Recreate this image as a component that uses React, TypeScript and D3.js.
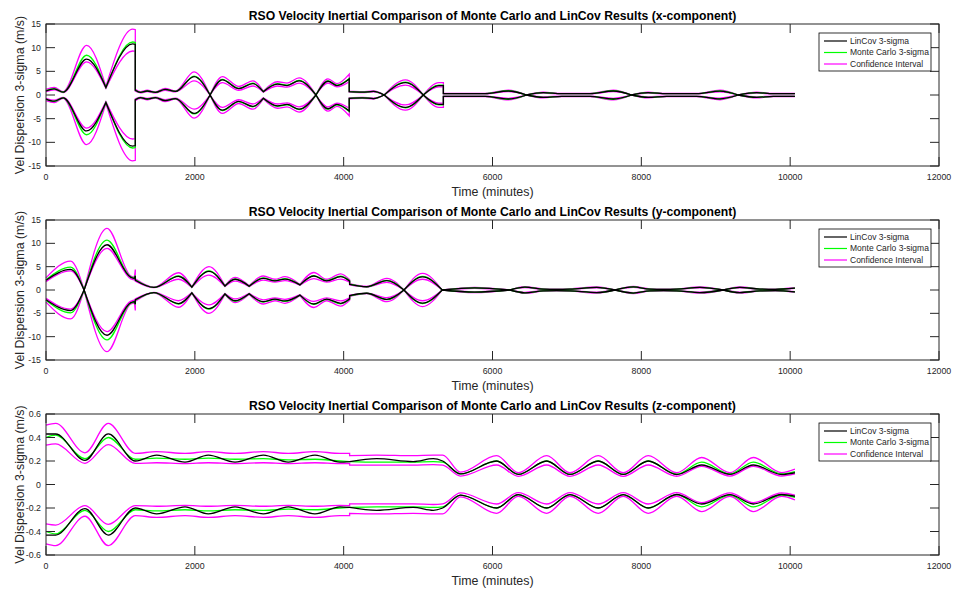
import React from "react";
import * as d3 from "d3";

// ---------- data (upper envelope values; lower envelope is the mirrored -value) ----------
// A repeated time marks a break (jump or cusp) in the curves.
const xTime = [0, 110, 230, 545, 805, 805, 1165, 1200,
  1200, 1270, 1360, 1470, 1600, 1740, 1990, 2205, 2205, 2370, 2590, 2780, 2920, 2920, 3110, 3240, 3400, 3628, 3628, 3790, 3910, 4075,
  4075, 4250, 4400, 4545, 4545, 4830, 5070, 5070, 5280, 5340,
  5340, 5900, 6212, 6459, 6459, 6682, 6930, 7310, 7623, 7870, 7870, 8090, 8340, 8743, 9057, 9302, 9302, 9550, 9773, 10064];
const xLinCov = [0.85, 1.3, 0.6, 7.6, 1.6, 1.6, 10.8, 10.7,
  1.0, 0.55, 0.85, 0.55, 1.2, 0.75, 3.9, 0, 0, 3.2, 1.35, 2.4, 0.7, 0.7, 2.3, 2.0, 3.0, 0, 0, 2.9, 2.0, 3.4,
  0.7, 0.6, 0.75, 0, 0, 2.6, 0, 0, 2.0, 2.0,
  0.28, 0.28, 0.85, 0, 0, 0.5, 0.28, 0.28, 0.85, 0, 0, 0.5, 0.28, 0.28, 0.8, 0, 0, 0.5, 0.28, 0.28];
const xMonteCarlo = [0.9, 1.35, 0.6, 8.4, 1.6, 1.6, 11.2, 11.1,
  1.0, 0.55, 0.85, 0.55, 1.2, 0.75, 4.0, 0, 0, 3.3, 1.4, 2.5, 0.7, 0.7, 2.4, 2.1, 3.1, 0, 0, 3.0, 2.1, 3.5,
  0.7, 0.6, 0.75, 0, 0, 2.7, 0, 0, 2.1, 2.1,
  0.28, 0.28, 0.9, 0, 0, 0.5, 0.28, 0.28, 0.9, 0, 0, 0.5, 0.28, 0.28, 0.85, 0, 0, 0.5, 0.28, 0.28];
const xCiHigh = [1.2, 1.6, 0.7, 10.5, 1.8, 1.8, 13.9, 13.8,
  1.2, 0.7, 1.0, 0.65, 1.4, 0.85, 4.9, 0, 0, 3.9, 1.8, 3.0, 0.8, 0.8, 2.8, 2.5, 3.6, 0, 0, 3.4, 2.4, 4.4,
  0.8, 0.7, 0.85, 0, 0, 3.2, 0, 0, 2.6, 2.6,
  0.33, 0.33, 1.05, 0, 0, 0.6, 0.33, 0.33, 1.05, 0, 0, 0.6, 0.33, 0.33, 1.0, 0, 0, 0.6, 0.33, 0.33];
const xCiLow = [0.7, 1.1, 0.5, 7.0, 1.4, 1.4, 9.3, 9.2,
  0.8, 0.45, 0.7, 0.45, 1.0, 0.65, 3.0, 0, 0, 2.6, 1.0, 1.9, 0.6, 0.6, 1.9, 1.65, 2.5, 0, 0, 2.5, 1.7, 2.8,
  0.6, 0.5, 0.65, 0, 0, 2.1, 0, 0, 1.7, 1.7,
  0.23, 0.23, 0.7, 0, 0, 0.4, 0.23, 0.23, 0.7, 0, 0, 0.4, 0.23, 0.23, 0.65, 0, 0, 0.4, 0.23, 0.23];

const yTime = [0, 330, 512, 512, 820, 1140, 1185, 1200,
  1200, 1450, 1780, 1960, 1960, 2190, 2405, 2405, 2540, 2730, 2730, 2920, 3077, 3211, 3413, 3413, 3600, 3771, 3960, 4080,
  4080, 4310, 4580, 4810, 4810, 5060, 5325,
  5325, 5760, 6235, 6235, 6436, 6680, 6860, 7040, 7400, 7646, 7646, 7892, 8116, 8300, 8475, 8788, 9101, 9101, 9325, 9594, 9800, 10064];
const yLinCov = [2.1, 4.4, 0, 0, 9.7, 2.7, 2.5, 3.0,
  2.1, 0.55, 2.9, 0.6, 0.6, 4.0, 0.85, 0.85, 2.3, 0.8, 0.8, 2.5, 1.95, 2.35, 1.1, 1.1, 3.0, 1.95, 2.85, 1.9,
  1.2, 0.7, 2.0, 0, 0, 2.8, 0,
  0, 0.45, 0, 0, 0.6, 0.2, 0.15, 0.2, 0.55, 0, 0, 0.65, 0.2, 0.15, 0.2, 0.55, 0, 0, 0.55, 0.2, 0.15, 0.4];
const yMonteCarlo = [2.2, 4.9, 0, 0, 10.7, 2.8, 2.6, 3.1,
  2.2, 0.55, 3.0, 0.6, 0.6, 4.1, 0.85, 0.85, 2.4, 0.8, 0.8, 2.6, 2.0, 2.45, 1.1, 1.1, 3.1, 2.0, 2.95, 2.0,
  1.25, 0.7, 2.05, 0, 0, 2.9, 0,
  0, 0.45, 0, 0, 0.6, 0.2, 0.15, 0.2, 0.55, 0, 0, 0.65, 0.2, 0.15, 0.2, 0.55, 0, 0, 0.55, 0.2, 0.15, 0.4];
const yCiHigh = [2.6, 6.2, 0, 0, 13.2, 3.0, 2.8, 4.4,
  2.4, 0.6, 3.7, 0.65, 0.65, 5.0, 0.95, 0.95, 2.7, 0.9, 0.9, 3.0, 2.3, 2.85, 1.2, 1.2, 3.75, 2.3, 3.45, 2.2,
  1.35, 0.75, 2.5, 0, 0, 3.55, 0,
  0, 0.55, 0, 0, 0.72, 0.25, 0.2, 0.25, 0.65, 0, 0, 0.78, 0.25, 0.2, 0.25, 0.68, 0, 0, 0.65, 0.25, 0.2, 0.5];
const yCiLow = [1.8, 4.1, 0, 0, 8.9, 2.4, 2.2, 2.6,
  1.9, 0.5, 2.3, 0.55, 0.55, 3.2, 0.75, 0.75, 1.9, 0.7, 0.7, 2.1, 1.7, 2.0, 1.0, 1.0, 2.45, 1.7, 2.35, 1.7,
  1.1, 0.65, 1.65, 0, 0, 2.3, 0,
  0, 0.38, 0, 0, 0.5, 0.15, 0.1, 0.15, 0.45, 0, 0, 0.55, 0.15, 0.1, 0.15, 0.45, 0, 0, 0.45, 0.15, 0.1, 0.35];

const zTime = [0, 130, 524, 837, 1200, 1487, 1868, 2181, 2540, 2920, 3256, 3614, 3950, 4080,
  4080, 4443, 4935, 5204, 5330, 5570, 6056, 6346, 6728, 7041, 7421, 7757, 8093, 8475, 8811, 9191, 9504, 9885, 10064];
const zLinCov = [0.43, 0.43, 0.205, 0.43, 0.2, 0.25, 0.19, 0.25, 0.19, 0.25, 0.19, 0.25, 0.19, 0.195,
  0.195, 0.22, 0.195, 0.22, 0.2, 0.09, 0.2, 0.086, 0.2, 0.086, 0.2, 0.086, 0.2, 0.085, 0.166, 0.086, 0.166, 0.085, 0.1];
const zMonteCarlo = [0.4, 0.42, 0.22, 0.4, 0.215, 0.225, 0.215, 0.225, 0.215, 0.22, 0.21, 0.215, 0.2, 0.195,
  0.195, 0.19, 0.19, 0.195, 0.19, 0.09, 0.2, 0.086, 0.2, 0.086, 0.2, 0.086, 0.2, 0.087, 0.19, 0.09, 0.19, 0.09, 0.11];
const zCiHigh = [0.505, 0.52, 0.27, 0.52, 0.265, 0.28, 0.265, 0.28, 0.265, 0.28, 0.265, 0.28, 0.265, 0.265,
  0.245, 0.25, 0.245, 0.25, 0.25, 0.105, 0.245, 0.1, 0.245, 0.1, 0.245, 0.1, 0.245, 0.1, 0.23, 0.1, 0.23, 0.1, 0.13];
const zCiLow = [0.335, 0.345, 0.18, 0.34, 0.18, 0.185, 0.178, 0.185, 0.178, 0.185, 0.178, 0.185, 0.178, 0.18,
  0.165, 0.165, 0.165, 0.17, 0.165, 0.072, 0.166, 0.07, 0.166, 0.07, 0.166, 0.07, 0.166, 0.07, 0.155, 0.072, 0.155, 0.072, 0.09];

const xTicks = [0, 2000, 4000, 6000, 8000, 10000, 12000];
const bigTicks = [-15, -10, -5, 0, 5, 10, 15];
const smallTicks = [-0.6, -0.4, -0.2, 0, 0.2, 0.4, 0.6];
const legendLabels = ["LinCov 3-sigma", "Monte Carlo 3-sigma", "Confidence Interval"];
const titles = [
  "RSO Velocity Inertial Comparison of Monte Carlo and LinCov Results (x-component)",
  "RSO Velocity Inertial Comparison of Monte Carlo and LinCov Results (y-component)",
  "RSO Velocity Inertial Comparison of Monte Carlo and LinCov Results (z-component)",
];

const FONT = "'Liberation Sans', Arial, Helvetica, sans-serif";
const AX = "#262626";
const LEFT = 46;
const RIGHT = 939;

function buildPath(times: number[], values: number[], x: any, y: any, sign: number) {
  const segs: [number, number][][] = [];
  let cur: [number, number][] = [];
  for (let i = 0; i < times.length; i++) {
    if (i > 0 && times[i] === times[i - 1]) {
      segs.push(cur);
      cur = [];
    }
    cur.push([times[i], sign * values[i]]);
  }
  segs.push(cur);
  const line = d3
    .line<[number, number]>()
    .x((d) => x(d[0]))
    .y((d) => y(d[1]))
    .curve(d3.curveMonotoneX);
  return segs
    .map((s, k) => {
      const p = line(s) || "";
      return k === 0 ? p : "L" + p.slice(1);
    })
    .join("");
}

function Panel(props: any) {
  const { top, bottom, yDomain, yTicks, title, time, lin, mc, hi, lo, fmt } = props;
  const x = d3.scaleLinear().domain([0, 12000]).range([LEFT, RIGHT]);
  const y = d3.scaleLinear().domain(yDomain).range([bottom, top]);
  const tl = 9;
  const cx = (LEFT + RIGHT) / 2;
  const cy = (top + bottom) / 2;
  const series = [
    { v: hi, c: "#ff00ff", w: 1.3 },
    { v: lo, c: "#ff00ff", w: 1.3 },
    { v: mc, c: "#00ff00", w: 1.3 },
    { v: lin, c: "#000000", w: 1.3 },
  ];
  const lgTop = top + 9;
  const lgColors = ["#000000", "#00ff00", "#ff00ff"];
  return (
    <g>
      <rect x={LEFT} y={top} width={RIGHT - LEFT} height={bottom - top} fill="#fff" />
      {series.map((s, i) => (
        <g key={i}>
          <path d={buildPath(time, s.v, x, y, 1)} fill="none" stroke={s.c} strokeWidth={s.w} />
          <path d={buildPath(time, s.v, x, y, -1)} fill="none" stroke={s.c} strokeWidth={s.w} />
        </g>
      ))}
      <rect x={LEFT} y={top} width={RIGHT - LEFT} height={bottom - top} fill="none" stroke={AX} strokeWidth={1} />
      {xTicks.map((t) => (
        <g key={"xt" + t}>
          <line x1={x(t)} x2={x(t)} y1={bottom} y2={bottom - tl} stroke={AX} />
          <line x1={x(t)} x2={x(t)} y1={top} y2={top + tl} stroke={AX} />
          <text x={x(t)} y={bottom + 13.5} textAnchor="middle" fontSize={8.8} fontFamily={FONT} fill={AX}>
            {t}
          </text>
        </g>
      ))}
      {yTicks.map((t: number) => (
        <g key={"yt" + t}>
          <line x1={LEFT} x2={LEFT + tl} y1={y(t)} y2={y(t)} stroke={AX} />
          <line x1={RIGHT} x2={RIGHT - tl} y1={y(t)} y2={y(t)} stroke={AX} />
          <text x={LEFT - 5} y={y(t)} dy="0.35em" textAnchor="end" fontSize={8.8} fontFamily={FONT} fill={AX}>
            {fmt(t)}
          </text>
        </g>
      ))}
      <text x={cx} y={top - 4} textAnchor="middle" fontSize={12.2} fontWeight="bold" fontFamily={FONT} fill="#000">
        {title}
      </text>
      <text x={cx} y={bottom + 30} textAnchor="middle" fontSize={12.4} fontFamily={FONT} fill={AX}>
        Time (minutes)
      </text>
      <text
        transform={`translate(23.5,${cy}) rotate(-90)`}
        textAnchor="middle"
        fontSize={12.4}
        fontFamily={FONT}
        fill={AX}
      >
        Vel Dispersion 3-sigma (m/s)
      </text>
      <rect x={819} y={lgTop} width={112} height={38} fill="#fff" stroke="#000" strokeWidth={0.8} />
      {legendLabels.map((l, i) => (
        <g key={l}>
          <line x1={824} x2={847} y1={lgTop + 8 + i * 11.5} y2={lgTop + 8 + i * 11.5} stroke={lgColors[i]} strokeWidth={1.2} />
          <text x={850} y={lgTop + 8 + i * 11.5} dy="0.35em" fontSize={8.5} fontFamily={FONT} fill={AX}>
            {l}
          </text>
        </g>
      ))}
    </g>
  );
}

export default function App() {
  const fmtBig = (v: number) => String(v);
  const fmtSmall = (v: number) => (v === 0 ? "0" : d3.format(".1f")(v).replace("−", "-"));
  return (
    <svg width={954} height={589} style={{ position: "absolute", left: 0, top: 0, background: "#fff" }}>
      <rect width={954} height={589} fill="#fff" />
      <Panel top={24} bottom={166} yDomain={[-15, 15]} yTicks={bigTicks} title={titles[0]}
        time={xTime} lin={xLinCov} mc={xMonteCarlo} hi={xCiHigh} lo={xCiLow} fmt={fmtBig} />
      <Panel top={220} bottom={360} yDomain={[-15, 15]} yTicks={bigTicks} title={titles[1]}
        time={yTime} lin={yLinCov} mc={yMonteCarlo} hi={yCiHigh} lo={yCiLow} fmt={fmtBig} />
      <Panel top={414} bottom={555} yDomain={[-0.6, 0.6]} yTicks={smallTicks} title={titles[2]}
        time={zTime} lin={zLinCov} mc={zMonteCarlo} hi={zCiHigh} lo={zCiLow} fmt={fmtSmall} />
    </svg>
  );
}
